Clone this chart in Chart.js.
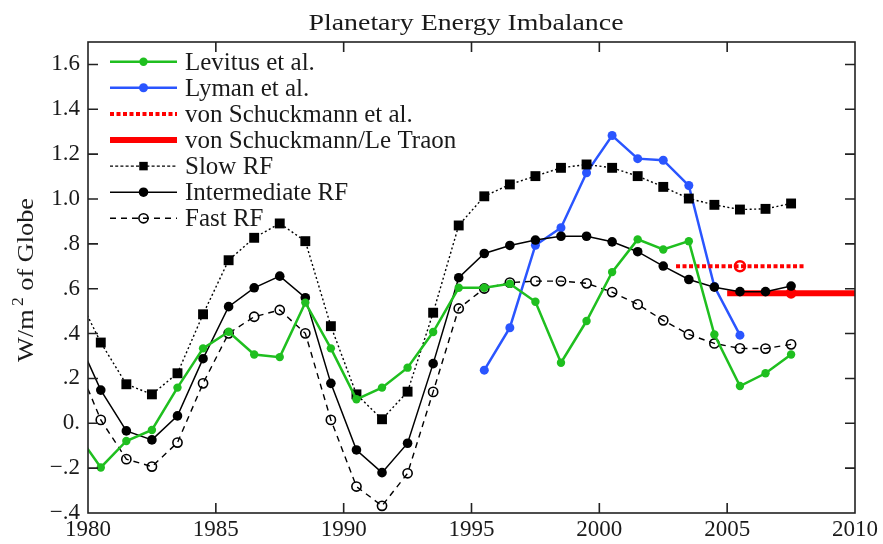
<!DOCTYPE html>
<html><head><meta charset="utf-8">
<script src="https://cdn.jsdelivr.net/npm/chart.js@4/dist/chart.umd.min.js"></script>
<style>html,body{margin:0;padding:0;background:#fff}#wrap{width:883px;height:544px}</style>
</head><body><div id="wrap"><canvas id="c" width="883" height="544"></canvas></div>
<script>
// ---- data ----
const years = [1979.5,1980.5,1981.5,1982.5,1983.5,1984.5,1985.5,1986.5,1987.5,1988.5,1989.5,1990.5,1991.5,1992.5,1993.5,1994.5,1995.5,1996.5,1997.5,1998.5,1999.5,2000.5,2001.5,2002.5,2003.5,2004.5,2005.5,2006.5,2007.5];
const levitus = [-0.035,-0.197,-0.079,-0.03,0.159,0.334,0.408,0.307,0.295,0.538,0.334,0.107,0.159,0.248,0.407,0.604,0.604,0.622,0.542,0.27,0.456,0.674,0.82,0.775,0.812,0.396,0.166,0.223,0.307];
const lyman = [null,null,null,null,null,null,null,null,null,null,null,null,null,null,null,null,0.237,0.426,0.794,0.872,1.117,1.283,1.18,1.173,1.06,0.61,0.393,null,null];
const slowRF = [0.59,0.36,0.174,0.129,0.223,0.486,0.727,0.827,0.891,0.812,0.433,0.129,0.018,0.141,0.493,0.882,1.012,1.065,1.102,1.139,1.154,1.139,1.102,1.054,1.002,0.974,0.953,0.956,0.98];
const intermediateRF = [0.40,0.148,-0.034,-0.074,0.033,0.288,0.52,0.604,0.656,0.56,0.178,-0.119,-0.22,-0.089,0.266,0.649,0.757,0.793,0.817,0.834,0.834,0.809,0.765,0.701,0.641,0.607,0.587,0.587,0.612];
const fastRF = [0.29,0.015,-0.16,-0.193,-0.086,0.178,0.401,0.475,0.505,0.401,0.015,-0.282,-0.368,-0.223,0.14,0.512,0.601,0.627,0.634,0.634,0.624,0.585,0.53,0.459,0.396,0.356,0.334,0.333,0.352];
const vsYears = [2003, 2005.5, 2008];
const vsValues = [0.70, 0.70, 0.70];
const ltYears = [2005, 2007.5, 2010];
const ltValues = [0.58, 0.58, 0.58];
const seriesNames = ['Levitus et al.','Lyman et al.','von Schuckmann et al.','von Schuckmann/Le Traon','Slow RF','Intermediate RF','Fast RF'];
const xTickValues = [1980,1985,1990,1995,2000,2005,2010];
const xTickLabels = ['1980','1985','1990','1995','2000','2005','2010'];
const yTickValues = [-0.4,-0.2,0,0.2,0.4,0.6,0.8,1.0,1.2,1.4,1.6];
const yTickLabels = ['\u2212.4','\u2212.2','0.','.2','.4','.6','.8','1.0','1.2','1.4','1.6'];
const chartTitle = 'Planetary Energy Imbalance';
const yTitleMain = 'W/m', yTitleSup = '2', yTitleRest = ' of Globe';

// ---- helpers ----
function pts(xs, ys){ const out=[]; xs.forEach((x,i)=>{ if(ys[i]!==null) out.push({x:x,y:ys[i]}); }); return out; }
const SERIF = '"Liberation Serif", "Times New Roman", serif';
const GREEN = '#1fbf1f', BLUE = '#2a55ff', RED = '#ff0000', BLACK = '#000';

const datasets = [
  {label:seriesNames[0], data:pts(years,levitus), borderColor:GREEN, backgroundColor:GREEN, borderWidth:2.5, pointStyle:'circle', pointRadius:4.2, pointBorderWidth:0, order:0},
  {label:seriesNames[1], data:pts(years,lyman), borderColor:BLUE, backgroundColor:BLUE, borderWidth:2.5, pointStyle:'circle', pointRadius:4.5, pointBorderWidth:0, order:6},
  {label:seriesNames[2], data:pts(vsYears,vsValues), borderColor:RED, backgroundColor:'rgba(0,0,0,0)', borderWidth:4, borderDash:[4,2.5], pointStyle:'circle', pointRadius:[0,5,0], pointBorderWidth:2.5, pointBorderColor:RED, order:4},
  {label:seriesNames[3], data:pts(ltYears,ltValues), borderColor:RED, backgroundColor:RED, borderWidth:6, pointStyle:'circle', pointRadius:[0,5.5,0], pointBorderWidth:0, order:5},
  {label:seriesNames[4], data:pts(years,slowRF), borderColor:BLACK, backgroundColor:BLACK, borderWidth:1.4, borderDash:[2,2.5], pointStyle:'rect', pointRadius:7, pointBorderWidth:0, order:2},
  {label:seriesNames[5], data:pts(years,intermediateRF), borderColor:BLACK, backgroundColor:BLACK, borderWidth:1.5, pointStyle:'circle', pointRadius:4.8, pointBorderWidth:0, order:1},
  {label:seriesNames[6], data:pts(years,fastRF), borderColor:BLACK, backgroundColor:'rgba(0,0,0,0)', borderWidth:1.4, borderDash:[6,5], pointStyle:'circle', pointRadius:4.6, pointBorderWidth:1.6, pointBorderColor:BLACK, order:3}
];

const decor = {
  id:'decor',
  afterDraw(chart){
    const ctx = chart.ctx, a = chart.chartArea, xs = chart.scales.x, ys = chart.scales.y;
    ctx.save();
    // frame
    ctx.strokeStyle = '#222'; ctx.lineWidth = 1.6; ctx.setLineDash([]);
    ctx.strokeRect(a.left, a.top, a.right - a.left, a.bottom - a.top);
    // inward ticks on all four sides
    const TL = 10;
    ctx.beginPath();
    xs.ticks.forEach(t => { const p = xs.getPixelForValue(t.value); if (p > a.left + 1 && p < a.right - 1) { ctx.moveTo(p, a.bottom); ctx.lineTo(p, a.bottom - TL); ctx.moveTo(p, a.top); ctx.lineTo(p, a.top + TL); } });
    ys.ticks.forEach(t => { const p = ys.getPixelForValue(t.value); if (p > a.top + 1 && p < a.bottom - 1) { ctx.moveTo(a.left, p); ctx.lineTo(a.left + TL, p); ctx.moveTo(a.right, p); ctx.lineTo(a.right - TL, p); } });
    ctx.stroke();

    // title
    ctx.fillStyle = '#1a1a1a';
    ctx.font = '23px ' + SERIF;
    ctx.textBaseline = 'alphabetic'; ctx.textAlign = 'left';
    const tw = ctx.measureText(chartTitle).width;
    const targetW = 315, sx = targetW / tw;
    ctx.save(); ctx.translate(466 - targetW/2, 29.5); ctx.scale(sx, 1); ctx.fillText(chartTitle, 0, 0); ctx.restore();

    // y axis title (rotated)
    ctx.save();
    ctx.translate(33, 280); ctx.rotate(-Math.PI/2);
    const fMain = '24px ' + SERIF, fSup = '16px ' + SERIF;
    ctx.font = fMain; const w1 = ctx.measureText(yTitleMain).width, w3 = ctx.measureText(yTitleRest).width;
    ctx.font = fSup; const w2 = ctx.measureText(yTitleSup).width + 3;
    const total = w1 + w2 + w3, k = 164 / total;
    ctx.scale(k, 1);
    let x0 = -total/2;
    ctx.font = fMain; ctx.fillText(yTitleMain, x0, 0); x0 += w1 + 3;
    ctx.font = fSup; ctx.fillText(yTitleSup, x0, -10); x0 += w2 - 3;
    ctx.font = fMain; ctx.fillText(yTitleRest, x0, 0);
    ctx.restore();

    // legend
    const lx0 = 110, lx1 = 177, lxm = 143.5, tx = 185, ry0 = 61.7, dy = 26.1;
    chart.data.datasets.forEach((ds, i) => {
      const y = ry0 + i * dy;
      ctx.save();
      ctx.strokeStyle = ds.borderColor; ctx.lineWidth = ds.borderWidth;
      ctx.setLineDash(ds.borderDash ? (i === 4 ? [3,2.2] : ds.borderDash) : []);
      ctx.beginPath(); ctx.moveTo(lx0, y); ctx.lineTo(lx1, y); ctx.stroke();
      ctx.setLineDash([]);
      const r = Array.isArray(ds.pointRadius) ? 0 : (i === 4 ? 6 : ds.pointRadius);
      if (r > 0) {
        ctx.fillStyle = ds.backgroundColor; ctx.strokeStyle = ds.pointBorderColor || ds.borderColor; ctx.lineWidth = ds.pointBorderWidth;
        Chart.helpers.drawPoint(ctx, {pointStyle: ds.pointStyle, radius: r, rotation: 0, borderWidth: ds.pointBorderWidth}, lxm, y);
      }
      ctx.restore();
      ctx.fillStyle = '#1a1a1a'; ctx.font = '25px ' + SERIF; ctx.textBaseline = 'alphabetic'; ctx.textAlign = 'left';
      ctx.fillText(ds.label, tx, y + 8);
    });
    ctx.restore();
  }
};

new Chart(document.getElementById('c'), {
  type: 'line',
  data: { datasets: datasets },
  options: {
    responsive: false, animation: false, events: [],
    layout: { padding: { top: 42, right: 28, left: 0, bottom: 0 } },
    elements: { line: { tension: 0 }, point: { hoverRadius: 0 } },
    plugins: { legend: { display: false }, title: { display: false }, tooltip: { enabled: false } },
    scales: {
      x: {
        type: 'linear', min: 1980, max: 2010,
        afterBuildTicks: s => { s.ticks = xTickValues.map(v => ({value: v})); },
        afterFit: s => { s.height = 31; },
        grid: { display: false, drawTicks: false }, border: { display: false },
        ticks: { padding: 3, color: '#1a1a1a', font: { family: SERIF, size: 23 }, maxRotation: 0, autoSkip: false,
          callback: v => xTickLabels[xTickValues.indexOf(v)] }
      },
      y: {
        type: 'linear', min: -0.4, max: 1.7,
        afterBuildTicks: s => { s.ticks = yTickValues.map(v => ({value: v})); },
        afterFit: s => { s.width = 88; },
        grid: { display: false, drawTicks: false }, border: { display: false },
        ticks: { padding: 8, color: '#1a1a1a', font: { family: SERIF, size: 23 }, autoSkip: false,
          callback: v => yTickLabels[yTickValues.findIndex(t => Math.abs(t - v) < 1e-9)] }
      }
    }
  },
  plugins: [decor]
});
</script></body></html>
